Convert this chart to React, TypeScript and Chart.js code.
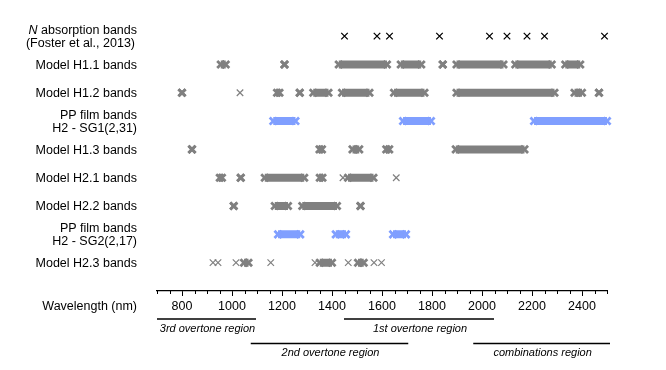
import React, { useEffect, useRef } from "react";
import { Chart, registerables } from "chart.js";

Chart.register(...registerables);

const FONT = '"Liberation Sans", Arial, Helvetica, sans-serif';

// ---- labels ----
const rowLabels: string[][] = [
  ["N absorption bands", "(Foster et al., 2013)"],
  ["Model H1.1 bands"],
  ["Model H1.2 bands"],
  ["PP film bands", "H2 - SG1(2,31)"],
  ["Model H1.3 bands"],
  ["Model H2.1 bands"],
  ["Model H2.2 bands"],
  ["PP film bands", "H2 - SG2(2,17)"],
  ["Model H2.3 bands"],
];
const italicLeadChars: number[] = [1, 0, 0, 0, 0, 0, 0, 0, 0];
const xTickLabels: number[] = [800, 1000, 1200, 1400, 1600, 1800, 2000, 2200, 2400];
const axisTitle = "Wavelength (nm)";
const xMin = 700;
const xMax = 2500;

// ---- data (wavelengths in nm) ----
const nAbsorption: number[] = [1450, 1580, 1630, 1830, 2030, 2100, 2180, 2250, 2490];

const h11Bands: [number, number][] = [[955, 975], [1210, 1210], [1427, 1620], [1675, 1757], [1843, 1843], [1898, 2086], [2133, 2279], [2333, 2393]];
const h11Thin: number[] = [];

const h12Bands: [number, number][] = [[800, 800], [1180, 1190], [1271, 1271], [1325, 1386], [1440, 1550], [1648, 1770], [1898, 2290], [2370, 2400], [2468, 2468]];
const h12Thin: number[] = [1032];

const pp1Bands: [number, number][] = [[1165, 1254], [1684, 1796], [2208, 2500]];

const h13Bands: [number, number][] = [[840, 840], [1350, 1360], [1482, 1509], [1617, 1629], [1895, 2170]];
const h13Thin: number[] = [];

const h21Bands: [number, number][] = [[951, 960], [1035, 1035], [1131, 1289], [1351, 1362], [1464, 1566]];
const h21Thin: number[] = [1444, 1657];

const h22Bands: [number, number][] = [[1007, 1007], [1171, 1224], [1281, 1420], [1514, 1514]];
const h22Thin: number[] = [];

const pp2Bands: [number, number][] = [[1184, 1273], [1415, 1456], [1644, 1696]];

const h23Bands: [number, number][] = [[1048, 1066], [1351, 1400], [1504, 1527]];
const h23Thin: number[] = [924, 944, 1016, 1155, 1332, 1465, 1568, 1598];

// ---- region annotations ----
const regionNames: string[] = ["3rd overtone region", "2nd overtone region", "1st overtone region", "combinations region"];
const regionStart: number[] = [700, 1075, 1448, 1965];
const regionEnd: number[] = [1096, 1705, 2048, 2512];
const regionLevel: number[] = [0, 1, 0, 1];

const GRAY = "#808080";
const BLUE = "#809fff";

type Row = { bands: [number, number][]; thin: number[]; color: string };
const modelRows: (Row | null)[] = [
  null,
  { bands: h11Bands, thin: h11Thin, color: GRAY },
  { bands: h12Bands, thin: h12Thin, color: GRAY },
  { bands: pp1Bands, thin: [], color: BLUE },
  { bands: h13Bands, thin: h13Thin, color: GRAY },
  { bands: h21Bands, thin: h21Thin, color: GRAY },
  { bands: h22Bands, thin: h22Thin, color: GRAY },
  { bands: pp2Bands, thin: [], color: BLUE },
  { bands: h23Bands, thin: h23Thin, color: GRAY },
];

function buildDatasets() {
  const ds: any[] = [];
  ds.push({
    type: "line",
    data: nAbsorption.map((v) => ({ x: v, y: 0 })),
    showLine: false,
    pointStyle: "crossRot",
    pointRadius: 4.6,
    pointBorderWidth: 1.3,
    pointBorderColor: "#000",
    pointBackgroundColor: "#000",
    clip: false,
  });
  modelRows.forEach((row, i) => {
    if (!row) return;
    const pts: any[] = [];
    row.bands.forEach(([s, e]) => {
      pts.push({ x: s, y: i }, { x: e, y: i }, { x: e, y: null });
    });
    ds.push({
      type: "line",
      data: pts,
      showLine: true,
      spanGaps: false,
      borderColor: row.color,
      borderWidth: 8,
      borderCapStyle: "butt",
      pointStyle: "crossRot",
      pointRadius: 5,
      pointBorderWidth: 2.8,
      pointBorderColor: row.color,
      pointBackgroundColor: row.color,
      clip: false,
    });
    if (row.thin.length) {
      ds.push({
        type: "line",
        data: row.thin.map((v) => ({ x: v, y: i })),
        showLine: false,
        pointStyle: "crossRot",
        pointRadius: 4.6,
        pointBorderWidth: 1.2,
        pointBorderColor: row.color,
        pointBackgroundColor: row.color,
        clip: false,
      });
    }
  });
  return ds;
}

const decorPlugin = {
  id: "decor",
  afterDraw(chart: any) {
    const { ctx } = chart;
    const x = chart.scales.x;
    const y = chart.scales.y;
    ctx.save();
    ctx.fillStyle = "#000";
    ctx.strokeStyle = "#000";
    ctx.textBaseline = "middle";
    const rx = x.left - 20;
    const regular = `12.5px ${FONT}`;
    const italic = `italic 12.5px ${FONT}`;
    rowLabels.forEach((lines, i) => {
      const cy = y.getPixelForValue(i);
      lines.forEach((t, j) => {
        const ly = lines.length === 1 ? cy + 1 : cy + 1 + (j === 0 ? -6.5 : 6.5);
        const nIt = j === 0 ? italicLeadChars[i] : 0;
        if (nIt > 0) {
          const head = t.slice(0, nIt);
          const rest = t.slice(nIt);
          ctx.font = regular;
          const wRest = ctx.measureText(rest).width;
          ctx.font = italic;
          const wHead = ctx.measureText(head).width;
          ctx.textAlign = "left";
          ctx.fillText(head, rx - wRest - wHead, ly);
          ctx.font = regular;
          ctx.fillText(rest, rx - wRest, ly);
        } else {
          ctx.font = regular;
          ctx.textAlign = "right";
          ctx.fillText(t, j === 1 && i === 0 ? rx - 2 : rx, ly);
        }
      });
    });
    // axis title
    const axY = x.top;
    ctx.font = regular;
    ctx.textAlign = "right";
    ctx.fillText(axisTitle, rx, axY + 15.5);
    // minor ticks
    ctx.lineWidth = 1;
    ctx.beginPath();
    for (let v = xMin; v <= xMax; v += 50) {
      if (v % 200 === 0) continue;
      const px = Math.round(x.getPixelForValue(v)) + 0.5;
      ctx.moveTo(px, axY);
      ctx.lineTo(px, axY + 3);
    }
    ctx.stroke();
    // regions
    ctx.font = `italic 11px ${FONT}`;
    ctx.textAlign = "center";
    regionNames.forEach((name, k) => {
      const ly = axY + (regionLevel[k] === 0 ? 28 : 52.5);
      const x0 = x.getPixelForValue(regionStart[k]);
      const x1 = x.getPixelForValue(regionEnd[k]);
      ctx.lineWidth = 1.6;
      ctx.beginPath();
      ctx.moveTo(x0, ly);
      ctx.lineTo(x1, ly);
      ctx.stroke();
      ctx.fillText(name, (x0 + x1) / 2 + 1, ly + 9.5);
    });
    ctx.restore();
  },
};

export default function App() {
  const ref = useRef<HTMLCanvasElement | null>(null);
  useEffect(() => {
    document.body.style.margin = "0";
    if (!ref.current) return;
    const chart = new Chart(ref.current, {
      type: "line",
      data: { datasets: buildDatasets() },
      options: {
        animation: false,
        responsive: false,
        devicePixelRatio: 1,
        events: [],
        layout: { padding: { left: 157, right: 59, top: 3, bottom: 49 } },
        plugins: { legend: { display: false }, tooltip: { enabled: false } },
        scales: {
          x: {
            type: "linear",
            min: xMin,
            max: xMax,
            position: "bottom",
            afterFit: (s: any) => {
              s.height = 30;
            },
            border: { display: true, color: "#000", width: 1.2 },
            grid: {
              drawOnChartArea: false,
              drawTicks: true,
              tickLength: 5,
              tickColor: (c: any) => (c.tick && c.tick.value % 200 === 0 ? "#000" : "rgba(0,0,0,0)"),
              tickWidth: 1,
            },
            ticks: {
              stepSize: 50,
              autoSkip: false,
              maxTicksLimit: 100,
              maxRotation: 0,
              padding: 3,
              color: "#000",
              font: { family: FONT, size: 12.5 },
              callback: (v: any) => (xTickLabels.includes(Number(v)) ? String(v) : ""),
            },
          },
          y: {
            type: "linear",
            min: -1,
            max: 9,
            reverse: true,
            display: false,
          },
        },
      },
      plugins: [decorPlugin],
    });
    return () => chart.destroy();
  }, []);
  return (
    <div style={{ width: 666, height: 370, position: "relative", background: "#fff" }}>
      <canvas ref={ref} width={666} height={370} style={{ display: "block" }} />
    </div>
  );
}
